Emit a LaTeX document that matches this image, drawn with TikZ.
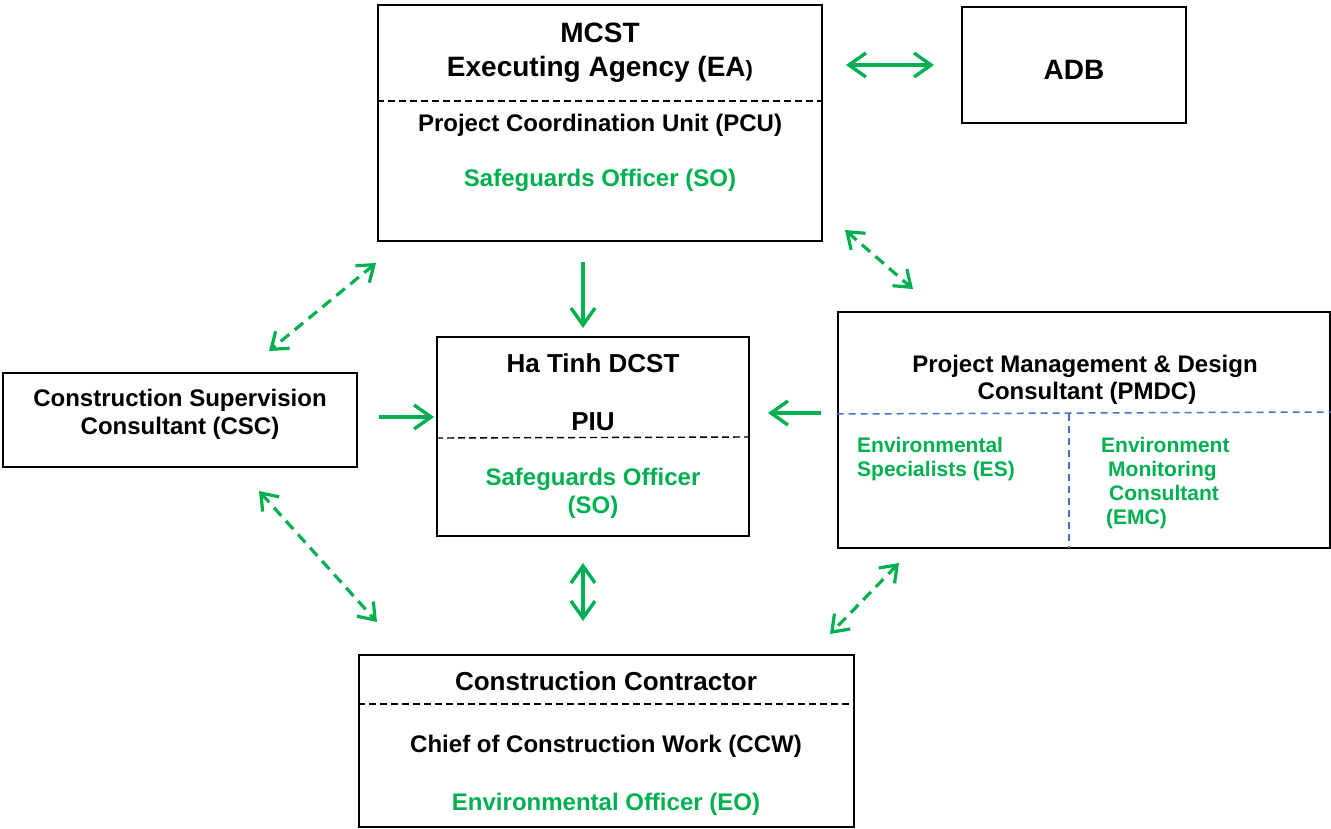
\documentclass[tikz,border=0pt]{standalone}
\usepackage{fontspec}
\setmainfont{Liberation Sans}
\usetikzlibrary{arrows.meta}
\definecolor{grn}{HTML}{00B050}
\definecolor{blu}{HTML}{4472C4}
\begin{document}
\begin{tikzpicture}[x=1pt,y=-1pt,
  box/.style={draw=black, line width=2pt, rectangle, inner sep=0pt},
  sep/.style={draw=black, line width=1.4pt, dash pattern=on 7pt off 4pt},
  bsep/.style={draw=blu, line width=1.5pt, dash pattern=on 7pt off 5pt},
  lab/.style={font=\fontsize{24}{28}\selectfont\bfseries, anchor=base, inner sep=0pt},
  mid/.style={font=\fontsize{26}{30}\selectfont\bfseries, anchor=base, inner sep=0pt},
  big/.style={font=\fontsize{28}{34}\selectfont\bfseries, anchor=base, inner sep=0pt},
  sml/.style={font=\fontsize{21}{24}\selectfont\bfseries, anchor=base west, inner sep=0pt, text=grn},
  conn/.style={draw=grn, line width=3.4pt, -{Straight Barb[length=17pt,width=24pt]}},
  dconn/.style={draw=grn, line width=3.2pt, dash pattern=on 11pt off 7pt,
     {Straight Barb[length=15pt,width=22pt]}-{Straight Barb[length=15pt,width=22pt]}},
  bconn/.style={draw=grn, line width=3.4pt, {Straight Barb[length=17pt,width=24pt]}-{Straight Barb[length=17pt,width=24pt]}},
]
\useasboundingbox (0,0) rectangle (1331,829);
% boxes
\node[box, minimum width=444pt, minimum height=236pt] (mcst) at (600,123) {};
\node[box, minimum width=224pt, minimum height=116pt] (adb) at (1074,65) {};
\node[box, minimum width=312pt, minimum height=199pt] (piu) at (593,436.5) {};
\node[box, minimum width=354pt, minimum height=94pt] (csc) at (180,420) {};
\node[box, minimum width=492pt, minimum height=236pt] (pmdc) at (1083.5,430) {};
\node[box, minimum width=495pt, minimum height=172pt] (cc) at (606.5,741) {};
% separators
\draw[sep] (mcst.west |- 0,101) -- (mcst.east |- 0,101);
\draw[sep] (piu.west |- 0,438) -- (piu.east |- 0,437);
\draw[sep] (cc.west |- 0,704) -- (cc.east |- 0,704);
\draw[bsep] (pmdc.west |- 0,414) -- (pmdc.east |- 0,412);
\draw[bsep] (1069,414) -- (1069,548);
% texts
\node[big] (t1) at (600,43) {MCST};
\node[big] (t2) at (600,77) {Executing Agency (EA{\fontsize{22}{26}\selectfont)}};
\node[lab] (t3) at (600,132) {Project Coordination Unit (PCU)};
\node[lab, text=grn] (t4) at (600,187) {Safeguards Officer (SO)};
\node[big] (t5) at (1074,80) {ADB};
\node[mid] (t6) at (593,372) {Ha Tinh DCST};
\node[mid] (t7) at (593,430) {PIU};
\node[lab, text=grn] (t8) at (593,485) {Safeguards Officer};
\node[lab, text=grn] (t9) at (593,513) {(SO)};
\node[lab] (t10) at (180,406) {Construction Supervision};
\node[lab] (t11) at (180,434) {Consultant (CSC)};
\node[lab] (t12) at (1085,372) {Project Management \& Design};
\node[lab] (t13) at (1087,399) {Consultant (PMDC)};
\node[sml] (t14) at (857,452) {Environmental};
\node[sml] (t15) at (857,476) {Specialists (ES)};
\node[sml] (t16) at (1101,452) {Environment};
\node[sml] (t17) at (1108,476) {Monitoring};
\node[sml] (t18) at (1109,500) {Consultant};
\node[sml] (t19) at (1106,524) {(EMC)};
\node[mid] (t20) at (606,690) {Construction Contractor};
\node[lab] (t21) at (606,752) {Chief of Construction Work (CCW)};
\node[lab, text=grn] (t22) at (606,810) {Environmental Officer (EO)};
% connector end points
\coordinate (a1s) at (846,65);  \coordinate (a1e) at (934,65);
\coordinate (a2s) at (583,262); \coordinate (a2e) at (583,328);
\coordinate (a3s) at (379,417); \coordinate (a3e) at (434,417);
\coordinate (a4s) at (821,413); \coordinate (a4e) at (768,413);
\coordinate (a5s) at (583,563); \coordinate (a5e) at (583,621);
\coordinate (d1s) at (376,263); \coordinate (d1e) at (269,351);
\coordinate (d2s) at (845,230); \coordinate (d2e) at (913,289);
\coordinate (d3s) at (259,491); \coordinate (d3e) at (377,622);
\coordinate (d4s) at (899,563); \coordinate (d4e) at (830,634);
% connectors
\draw[bconn] (a1s) -- (a1e);
\draw[conn] (a2s) -- (a2e);
\draw[conn] (a3s) -- (a3e);
\draw[conn] (a4s) -- (a4e);
\draw[bconn] (a5s) -- (a5e);
\draw[dconn] (d1s) -- (d1e);
\draw[dconn] (d2s) -- (d2e);
\draw[dconn] (d3s) -- (d3e);
\draw[dconn] (d4s) -- (d4e);
\end{tikzpicture}
\end{document}
